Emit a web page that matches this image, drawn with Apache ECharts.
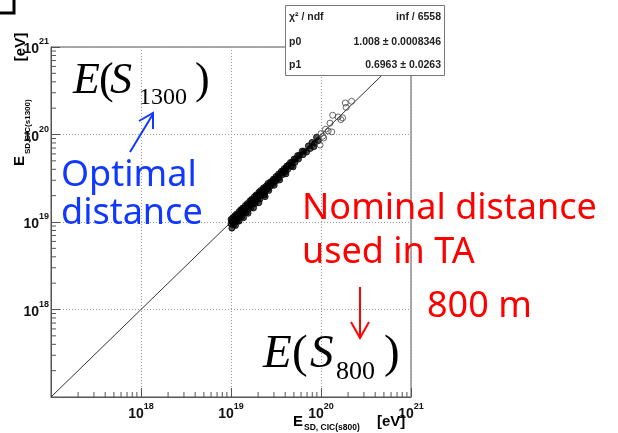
<!DOCTYPE html>
<html>
<head>
<meta charset="utf-8">
<script src="https://cdn.jsdelivr.net/npm/echarts@6/dist/echarts.min.js"></script>
<style>
html,body{margin:0;padding:0;background:#fff;}
#chart{width:618px;height:433px;}
</style>
</head>
<body>
<div id="chart"></div>
<script>
// ---- data (log10 of energies in eV) ----
// dense band of events: [log10 E_SD,CIC(s800), log10 E_SD,CIC(s1300)]
var denseEvents = [
  [19.00,19.03],[19.02,19.05],[19.04,19.07],[19.06,19.09],[19.09,19.12],[19.11,19.14],[19.13,19.16],[19.16,19.19],[19.18,19.21],[19.21,19.24],
  [19.23,19.26],[19.26,19.29],[19.28,19.31],[19.31,19.34],[19.33,19.36],[19.36,19.39],[19.39,19.41],[19.41,19.44],[19.44,19.46],[19.47,19.49],
  [19.50,19.52],[19.53,19.55],[19.56,19.58],[19.59,19.61],[19.62,19.64],[19.66,19.68],[19.70,19.72],[19.74,19.76],[19.79,19.81],
  [19.01,19.01],[19.03,19.03],[19.05,19.05],[19.07,19.08],[19.10,19.10],[19.12,19.12],[19.14,19.15],[19.17,19.17],[19.19,19.19],[19.22,19.22],
  [19.24,19.25],[19.27,19.27],[19.29,19.30],[19.32,19.32],[19.35,19.35],[19.37,19.38],[19.40,19.40],[19.43,19.43],[19.46,19.46],[19.49,19.49],
  [19.52,19.52],[19.55,19.55],[19.58,19.58],[19.61,19.61],[19.64,19.65],[19.68,19.68],[19.72,19.72],[19.76,19.76],[19.81,19.81],[19.86,19.87],
  [19.00,18.98],[19.02,18.99],[19.04,19.01],[19.06,19.03],[19.08,19.05],[19.11,19.08],[19.13,19.10],[19.15,19.12],[19.18,19.15],[19.20,19.17],
  [19.23,19.20],[19.25,19.22],[19.28,19.25],[19.30,19.27],[19.33,19.30],[19.36,19.33],[19.38,19.35],[19.41,19.38],[19.44,19.41],[19.47,19.44],
  [19.50,19.47],[19.53,19.50],[19.57,19.54],[19.60,19.57],[19.63,19.60],[19.67,19.64],[19.71,19.68],[19.75,19.72],[19.80,19.77],
  [19.03,18.97],[19.07,19.01],[19.12,19.06],[19.17,19.11],[19.22,19.16],[19.27,19.21],[19.32,19.26],[19.37,19.31],[19.42,19.36],[19.48,19.42],
  [19.54,19.48],[19.61,19.55],[19.69,19.63],
  [19.01,18.93],[19.05,18.96],[19.09,19.01],[19.14,19.05],[19.19,19.10],[19.25,19.16],[19.31,19.22],[19.38,19.29],
  [19.84,19.80],[19.88,19.84],[19.90,19.91],[19.93,19.90],[19.95,19.97],[19.97,19.93],[19.92,19.86]
];
// sparse high-energy events
var sparseEvents = [
  [20.00,20.01],[20.02,19.98],[20.05,20.06],[20.08,20.04],[20.03,19.96],[20.10,20.13],[20.12,20.03],[20.13,20.22],
  [20.24,20.19],[20.19,20.20],[20.27,20.36],[20.28,20.31],[20.34,20.38],[20.22,20.17],[19.99,19.88]
];
// fitted line end points [E800, E1300] in eV
var fitLine = [[1e17,1e17],[1e21,1e21]];
// axis range (eV)
var axisMin = 1e17, axisMax = 1e21;
var decades = [1e17,1e18,1e19,1e20];
var minorMultipliers = [2,3,4,5,6,7,8,9];
// fit statistics box
var statLabels = ['\u03c7\u00b2 / ndf','p0','p1'];
var statValues = ['inf / 6558','1.008 \u00b1 0.0008346','0.6963 \u00b1 0.0263'];

// ---- build ----
function toEV(p){ return [Math.pow(10,p[0]), Math.pow(10,p[1])]; }
var minorX = [], minorY = [];
decades.forEach(function(d){ minorMultipliers.forEach(function(m){
  minorX.push([m*d, axisMin]); minorY.push([axisMin, m*d]);
});});

var labelRich = {
  b:{fontFamily:'Liberation Sans',fontWeight:'bold',fontSize:14,color:'#111',verticalAlign:'bottom',lineHeight:19},
  s:{fontFamily:'Liberation Sans',fontWeight:'bold',fontSize:9,color:'#111',verticalAlign:'top',lineHeight:19}
};
function expFmt(v){
  var e = Math.round(Math.log10(v));
  if (e <= 17) return '';
  return '{b|10}{s|' + e + '}';
}

var chart = echarts.init(document.getElementById('chart'), null, {renderer:'canvas'});
var serif = 'Liberation Serif';
var sans = '"Noto Sans"';
function T(x,y,text,opt){
  return {type:'text', x:x, y:y, silent:true, z:100, rotation: opt.rot||0,
    style:{text:text, fontSize:opt.size, fontFamily:opt.family||sans, fontStyle:opt.style||'normal',
      fontWeight:opt.weight||'normal', fill:opt.color||'#000', align:opt.align||'left', verticalAlign:'middle'}};
}
var graphics = [
  // corner bracket
  {type:'polyline', shape:{points:[[0,13],[14,13],[14,0]]}, style:{stroke:'#000',lineWidth:3,fill:null}},
  // stats box
  {type:'rect', shape:{x:285.5,y:5.5,width:159,height:70}, style:{fill:'#fff',stroke:'#777',lineWidth:1}, z:90}
];
statLabels.forEach(function(l,i){
  var yy = [17,42,65][i];
  graphics.push(T(289,yy,l,{size:10.5,family:'Liberation Sans',weight:'bold',color:'#222'}));
  graphics.push(T(441,yy,statValues[i],{size:10.5,family:'Liberation Sans',weight:'bold',color:'#222',align:'right'}));
});
// y axis title (rotated)
graphics.push(T(20,161,'E',{size:15,family:'Liberation Sans',weight:'bold',rot:Math.PI/2,align:'center'}));
graphics.push(T(28,154,'SD,CIC(s1300)',{size:8,family:'Liberation Sans',weight:'bold',rot:Math.PI/2,align:'left'}));
graphics.push(T(21,47,'[eV]',{size:15,family:'Liberation Sans',weight:'bold',rot:Math.PI/2,align:'center'}));
// x axis title
graphics.push(T(293,422,'E',{size:15,family:'Liberation Sans',weight:'bold'}));
graphics.push(T(304,428,'SD, CIC(s800)',{size:8.5,family:'Liberation Sans',weight:'bold'}));
graphics.push(T(377,422,'[eV]',{size:15,family:'Liberation Sans',weight:'bold'}));
// E(S1300)
graphics.push(T(73,81,'E',{size:44,family:serif,style:'italic'}));
graphics.push(T(99,81,'(',{size:44,family:serif}));
graphics.push(T(110,81,'S',{size:44,family:serif,style:'italic'}));
graphics.push(T(139,98,'1300',{size:24,family:serif}));
graphics.push(T(195,81,')',{size:44,family:serif}));
// E(S800)
graphics.push(T(263,355,'E',{size:47,family:serif,style:'italic'}));
graphics.push(T(292,355,'(',{size:47,family:serif}));
graphics.push(T(310,355,'S',{size:47,family:serif,style:'italic'}));
graphics.push(T(336,372,'800',{size:26,family:serif}));
graphics.push(T(384,355,')',{size:47,family:serif}));
// blue annotation
var blue = '#1038ff', red = '#ff0000';
graphics.push(T(61,176,'Optimal',{size:36,color:blue}));
graphics.push(T(61,214,'distance',{size:36,color:blue}));
graphics.push({type:'line', shape:{x1:130,y1:152,x2:153,y2:114}, style:{stroke:blue,lineWidth:2}, z:100});
graphics.push({type:'polyline', shape:{points:[[139,121],[153,113],[153,129]]}, style:{stroke:blue,lineWidth:2,fill:null}, z:100});
// red annotation
graphics.push(T(302,209,'Nominal distance',{size:36,color:red}));
graphics.push(T(302,253,'used in TA',{size:36,color:red}));
graphics.push(T(427,307,'800 m',{size:36,color:red}));
graphics.push({type:'line', shape:{x1:360,y1:287,x2:360,y2:337}, style:{stroke:red,lineWidth:2}, z:100});
graphics.push({type:'polyline', shape:{points:[[351,322],[360,338],[369,322]]}, style:{stroke:red,lineWidth:2,fill:null}, z:100});

function minorTick(horizontal){
  return function(params, api){
    var p = api.coord([api.value(0), api.value(1)]);
    return {type:'line', shape: horizontal ?
      {x1:p[0], y1:p[1], x2:p[0], y2:p[1]-5} : {x1:p[0], y1:p[1], x2:p[0]+5, y2:p[1]},
      style:{stroke:'#555', lineWidth:1}};
  };
}

var axisCommon = {
  type:'log', logBase:10, min:axisMin, max:axisMax,
  axisLine:{show:true, lineStyle:{color:'#555', width:1}},
  axisTick:{show:true, inside:true, length:9, lineStyle:{color:'#555'}},
  minorTick:{show:false},
  splitLine:{show:true, lineStyle:{color:'#9a9a9a', type:[1,2], width:1}},
  axisLabel:{formatter:expFmt, rich:labelRich, showMinLabel:true, showMaxLabel:true}
};

chart.setOption({
  animation:false,
  backgroundColor:'#fff',
  grid:{left:51, top:47, width:360, height:350, show:true, borderColor:'#555', borderWidth:1, containLabel:false, outerBoundsMode:'none'},
  xAxis: Object.assign({}, axisCommon, {axisLabel:Object.assign({}, axisCommon.axisLabel, {margin:5})}),
  yAxis: Object.assign({}, axisCommon, {axisLabel:Object.assign({}, axisCommon.axisLabel, {margin:2, align:'right'})}),
  series:[
    {type:'line', data:fitLine, showSymbol:false, symbol:'none', lineStyle:{color:'#333', width:1}, silent:true, z:3},
    {type:'scatter', data:denseEvents.map(toEV), symbol:'circle', symbolSize:6,
      itemStyle:{color:'rgba(0,0,0,0.85)', borderColor:'#000', borderWidth:1}, silent:true, z:4},
    {type:'scatter', data:sparseEvents.map(toEV), symbol:'circle', symbolSize:6,
      itemStyle:{color:'rgba(0,0,0,0)', borderColor:'#444', borderWidth:1}, silent:true, z:4},
    {type:'custom', data:minorX, renderItem:minorTick(true), silent:true, clip:false, z:5},
    {type:'custom', data:minorY, renderItem:minorTick(false), silent:true, clip:false, z:5}
  ],
  graphic: graphics
});
</script>
</body>
</html>
